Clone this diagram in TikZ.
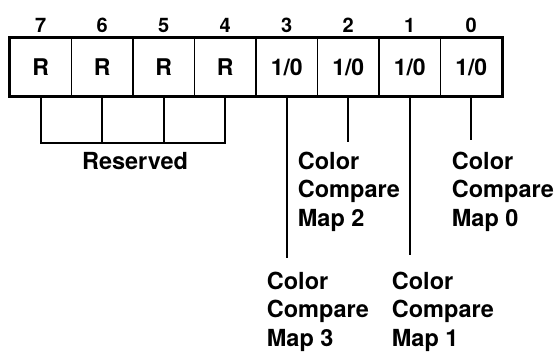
\documentclass[tikz,border=0pt]{standalone}
\usepackage{fontspec}
\setmainfont{TeX Gyre Heros}

\begin{document}
\begin{tikzpicture}[
  x=1pt, y=-1pt,
  line width=1.8pt,
  bitcell/.style={draw, line width=1.5pt, minimum width=61.5pt, minimum height=58pt,
    inner sep=0pt, font=\fontsize{23}{23}\selectfont\bfseries},
  bitnum/.style={anchor=base, inner sep=0pt, font=\fontsize{20}{20}\selectfont\bfseries},
  maplabel/.style={anchor=north west, align=left, inner sep=0pt,
    font=\fontsize{23.5}{28.5}\selectfont\bfseries}
]
\useasboundingbox (0,0) rectangle (554,353);

% register cells, bit 7 on the left
\foreach \b/\t in {7/R, 6/R, 5/R, 4/R, 3/{1/0}, 2/{1/0}, 1/{1/0}, 0/{1/0}} {
  \node[bitcell] (b\b) at ({40.75+61.5*(7-\b)}, 67) {\t};
  \node[bitnum] (n\b) at ([yshift=5pt]b\b.north) {\b};
}
\draw[line width=2.3pt] (b7.north west) rectangle (b0.south east);

% reserved bits
\coordinate (rsvd) at (0,143);
\draw (b7.south) -- (b7.south |- rsvd) -- (b4.south |- rsvd) -- (b4.south);
\foreach \b in {6,5}
  \draw (b\b.south) -- (b\b.south |- rsvd);
\node[anchor=base, inner sep=0pt, font=\fontsize{23.5}{23.5}\selectfont\bfseries]
  (rsvdlbl) at (135,169) {Reserved};

% compare map bits
\node[maplabel] (map2) at (297,151) {Color\\Compare\\Map 2};
\node[maplabel] (map0) at (451,151) {Color\\Compare\\Map 0};
\node[maplabel] (map3) at (266,271) {Color\\Compare\\Map 3};
\node[maplabel] (map1) at (391,271) {Color\\Compare\\Map 1};

\draw (b2.south) -- ([yshift=9pt]b2.south |- map2.north);
\draw (b0.south) -- ([yshift=11pt]b0.south |- map0.north);
\draw (b3.south) -- ([yshift=13pt]b3.south |- map3.north);
\draw (b1.south) -- ([yshift=16pt]b1.south |- map1.north);
\end{tikzpicture}
\end{document}
